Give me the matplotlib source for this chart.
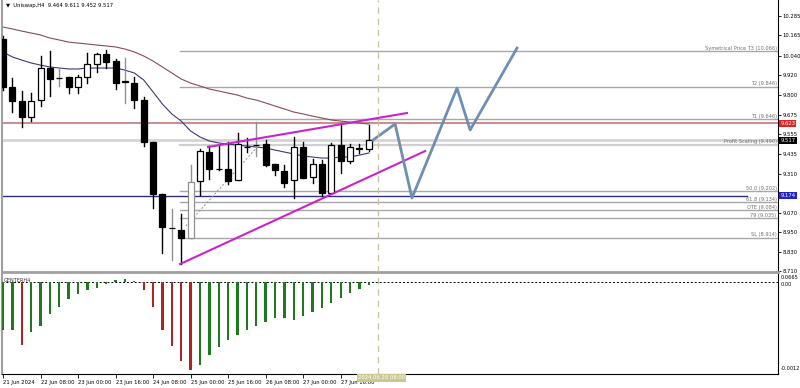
import matplotlib
matplotlib.use("Agg")
import matplotlib.pyplot as plt
from matplotlib import font_manager
import numpy as np
from matplotlib.transforms import blended_transform_factory as btf

# ---------------- data ----------------
opens  = [10.143, 9.846, 9.760, 9.661, 9.766, 9.964, 9.905, 9.908, 9.846, 9.908,
          9.989, 10.050, 10.007, 9.880, 9.871, 9.766, 9.507, 9.186, 8.978, 8.963,
          8.914, 9.266, 9.445, 9.342, 9.340, 9.272, 9.478, 9.490, 9.494, 9.371,
          9.328, 9.272, 9.476, 9.291, 9.371, 9.192, 9.488, 9.389, 9.470, 9.464]
highs  = [10.160, 9.902, 9.822, 9.809, 10.038, 10.069, 9.964, 9.908, 9.921, 10.056,
          10.056, 10.075, 10.019, 10.026, 9.908, 9.785, 9.507, 9.186, 9.093, 9.062,
          9.365, 9.464, 9.482, 9.488, 9.507, 9.562, 9.532, 9.630, 9.519, 9.371,
          9.365, 9.538, 9.507, 9.402, 9.395, 9.501, 9.624, 9.494, 9.494, 9.611]
lows   = [9.828, 9.692, 9.599, 9.636, 9.729, 9.791, 9.853, 9.809, 9.809, 9.871,
          9.939, 9.964, 9.834, 9.748, 9.717, 9.482, 9.099, 8.821, 8.778, 8.753,
          8.914, 9.179, 9.278, 9.334, 9.247, 9.272, 9.445, 9.420, 9.359, 9.303,
          9.229, 9.161, 9.284, 9.253, 9.173, 9.192, 9.315, 9.377, 9.439, 9.452]
closes = [9.846, 9.760, 9.661, 9.760, 9.964, 9.896, 9.900, 9.846, 9.908, 9.989,
          10.050, 10.001, 9.871, 9.877, 9.766, 9.507, 9.186, 8.982, 8.974, 8.914,
          9.260, 9.451, 9.340, 9.338, 9.266, 9.494, 9.474, 9.486, 9.365, 9.334,
          9.253, 9.476, 9.284, 9.371, 9.192, 9.488, 9.389, 9.476, 9.462, 9.517]

ma_slow = [10.217, 10.205, 10.192, 10.180, 10.168, 10.149, 10.137, 10.124, 10.118, 10.112,
           10.106, 10.100, 10.094, 10.081, 10.063, 10.038, 10.007, 9.970, 9.933, 9.896,
           9.871, 9.853, 9.834, 9.822, 9.809, 9.797, 9.778, 9.766, 9.748, 9.729,
           9.711, 9.692, 9.680, 9.667, 9.655, 9.643, 9.636, 9.630, 9.624, 9.618]
ma_fast = [10.063, 10.032, 10.013, 9.995, 9.982, 9.970, 9.964, 9.958, 9.958, 9.964,
           9.964, 9.964, 9.964, 9.951, 9.933, 9.890, 9.816, 9.741, 9.680, 9.636,
           9.575, 9.538, 9.513, 9.501, 9.494, 9.488, 9.482, 9.476, 9.470, 9.457,
           9.445, 9.433, 9.420, 9.414, 9.408, 9.408, 9.414, 9.414, 9.426, 9.439]

osc = [-0.00066, -0.00066, -0.00087, -0.00069, -0.00061, -0.00044, -0.00034, -0.00023, -0.00017, -0.00011,
       -0.00008, -0.00003, 0.00003, 0.00004, 0.00001, -0.00011, -0.00034, -0.00066, -0.00088, -0.00109,
       -0.00121, -0.00114, -0.00101, -0.00090, -0.00080, -0.00073, -0.00066, -0.00061, -0.00055, -0.00050,
       -0.00050, -0.00052, -0.00047, -0.00041, -0.00036, -0.00029, -0.00022, -0.00015, -0.00010, -0.00004]
osc_red = [2, 15, 16, 17, 18, 19, 20]

fib_names  = ["Symetrical Price T3", "T2", "T1", "Profit Scaling", "50.0", "61.8", "OTE", "79", "SL"]
fib_levels = [10.066, 9.846, 9.646, 9.490, 9.202, 9.134, 9.084, 9.035, 8.914]

price_ticks = [10.285, 10.165, 10.040, 9.920, 9.800, 9.675, 9.555, 9.435, 9.310,
               9.070, 8.950, 8.830, 8.710]
xtick_idx = [0, 4, 8, 12, 16, 20, 24, 28, 32, 36]
xtick_lbl = ["21 Jun 2024", "22 Jun 08:00", "23 Jun 00:00", "23 Jun 16:00", "24 Jun 08:00",
             "25 Jun 00:00", "25 Jun 16:00", "26 Jun 08:00", "27 Jun 00:00", "27 Jun 16:00"]

red_level, bid_level, blue_level = 9.623, 9.517, 9.174
wedge_upper = ([21.85, 43.07], [9.476, 9.686])
wedge_lower = ([18.87, 45.0], [8.753, 9.451])
proj_x = [39.45, 41.8, 43.6, 48.4, 49.8, 54.8]
proj_y = [9.519, 9.618, 9.161, 9.840, 9.581, 10.087]
dotted = ([19.5, 27.2], [8.988, 9.482])
cursor_idx = 40
grey_wicks = [6, 13, 18, 20, 27]

# ---------------- font ----------------
try:
    font_manager.findfont("Liberation Sans Narrow", fallback_to_default=False)
    FAM = ["Liberation Sans Narrow", "DejaVu Sans"]
    fs = 4.6
    fs_small = 4.4
except Exception:
    FAM = ["DejaVu Sans"]
    fs = 3.8
    fs_small = 3.6
plt.rcParams["font.family"] = FAM

# ---------------- figure ----------------
W, H = 800, 388
fig = plt.figure(figsize=(W / 100, H / 100), dpi=100)
fig.patch.set_facecolor("white")

def fx(px):
    return px / W

def fy(py):
    return 1 - py / H

xlim = (-0.107, 82.62)
ax = fig.add_axes([fx(2), fy(272), fx(776), 272 / H])
ax2 = fig.add_axes([fx(2), fy(374), fx(776), 100 / H])

ax.set_xlim(*xlim)
ax.set_ylim(8.704, 10.384)
ax2.set_xlim(*xlim)
ax2.set_ylim(-0.001269, 0.00011)

# horizontal lines
ax.axhline(bid_level, color="#d4d4d4", lw=2, zorder=1)
ax.axhline(red_level, color="#c89090", lw=1.5, zorder=1)
ax.plot([xlim[0], 79.3], [blue_level, blue_level], color="#30307a", lw=1, zorder=1)
for name, lv in zip(fib_names, fib_levels):
    col = "#d0d0d0" if name == "Profit Scaling" else "#a8a8a8"
    lw = 1.6 if name == "Profit Scaling" else 1
    ax.plot([18.87, xlim[1]], [lv, lv], color=col, lw=lw, zorder=1)
    ax.text(xlim[1] - 0.15, lv + 0.005, f"{name} ({lv:.3f})", fontsize=fs_small, color="#707070",
            ha="right", va="bottom", zorder=5)

# moving averages
idx = np.arange(len(opens))
ax.plot(idx, ma_slow, color="#8a4a5a", lw=0.8, zorder=2)
ax.plot(idx, ma_fast, color="#3a3a7a", lw=0.8, zorder=2)

# candles
bw = 0.64
for i, (o, h, l, c) in enumerate(zip(opens, highs, lows, closes)):
    wc = "#909090" if i in grey_wicks else "black"
    ax.plot([i, i], [l, h], color=wc, lw=1, zorder=3)
    bottom = min(o, c)
    height = max(abs(c - o), 0.004)
    if c >= o:
        ax.add_patch(plt.Rectangle((i - bw / 2, bottom), bw, height, facecolor="white",
                                   edgecolor=wc, lw=0.9, zorder=4))
    else:
        ax.add_patch(plt.Rectangle((i - bw / 2, bottom), bw, height, facecolor="black",
                                   edgecolor="black", lw=0.9, zorder=4))

# drawings
ax.plot(*dotted, color="#909090", lw=0.7, ls=(0, (2, 2)), zorder=3)
ax.plot(*wedge_upper, color="#cc22cc", lw=1.5, zorder=5)
ax.plot(*wedge_lower, color="#cc22cc", lw=1.5, zorder=5)
ax.plot(proj_x, proj_y, color="#6f8fb0", lw=2, zorder=5)
for a in (ax, ax2):
    a.axvline(cursor_idx, color="#c8c0a0", lw=0.9, ls=(0, (5, 4)), zorder=6)

# axes styling main
ax.spines["top"].set_visible(False)
ax.spines["left"].set_color("#a0a0a0")
ax.spines["left"].set_linewidth(1.5)
ax.spines["right"].set_color("black")
ax.spines["right"].set_linewidth(0.8)
ax.spines["bottom"].set_color("#a0a0a0")
ax.spines["bottom"].set_linewidth(2)
ax.yaxis.tick_right()
ax.set_yticks(price_ticks)
ax.set_yticklabels([f"{p:.3f}" for p in price_ticks])
ax.tick_params(axis="y", labelsize=fs, length=2, width=0.6, pad=1.5, colors="black")
ax.set_xticks([])

# price tags
tr = btf(ax.transAxes, ax.transData)
for lv, bg in [(red_level, "#dd2222"), (bid_level, "black"), (blue_level, "#2222cc")]:
    ax.text(1.003, lv, f"{lv:.3f}", transform=tr, fontsize=fs, color="white", ha="left",
            va="center", bbox=dict(boxstyle="square,pad=0.2", fc=bg, ec="none"), zorder=10,
            clip_on=False)

ax.text(4 / 776, 1 - 6 / 272, "\u25bc  Uniswap,H4  9.464 9.611 9.452 9.517",
        transform=ax.transAxes, fontsize=fs, color="black", ha="left", va="center")

# oscillator
cols = ["#b22222" if i in osc_red else "#1f7a1f" for i in idx]
ax2.bar(idx, osc, width=0.25, color=cols, zorder=3)
ax2.axhline(0, color="black", lw=0.7, ls=(0, (2, 2)), zorder=2)
ax2.spines["top"].set_visible(False)
ax2.spines["left"].set_color("#a0a0a0")
ax2.spines["left"].set_linewidth(1.5)
ax2.spines["right"].set_linewidth(0.8)
ax2.spines["bottom"].set_linewidth(0.8)
ax2.set_yticks([])
tr2 = btf(ax2.transAxes, ax2.transData)
ax2.text(1.004, 0.00003, "0.0665", transform=tr2, fontsize=fs_small, ha="left", va="bottom", clip_on=False)
ax2.text(1.004, 0.0, "0.00", transform=tr2, fontsize=fs_small, ha="left", va="top", clip_on=False)
ax2.text(1.004, -0.0012, "-0.0012", transform=tr2, fontsize=fs_small, ha="left", va="center", clip_on=False)
ax2.text(0.002, 0.00002, "GENTERH4", transform=tr2, fontsize=fs_small, ha="left", va="center",
         color="#333333")

ax2.set_xticks(xtick_idx)
ax2.set_xticklabels(xtick_lbl, ha="left")
ax2.tick_params(axis="x", labelsize=fs, length=3, width=0.6, pad=1.5, direction="out")
ax2.text(cursor_idx - 2.2, -0.001269 - 0.00002, "2024.06.28 08:00", fontsize=fs, color="white",
         ha="left", va="top", bbox=dict(boxstyle="square,pad=0.2", fc="#c8c890", ec="none"),
         zorder=10, clip_on=False)

fig.savefig("out.png", dpi=100)
